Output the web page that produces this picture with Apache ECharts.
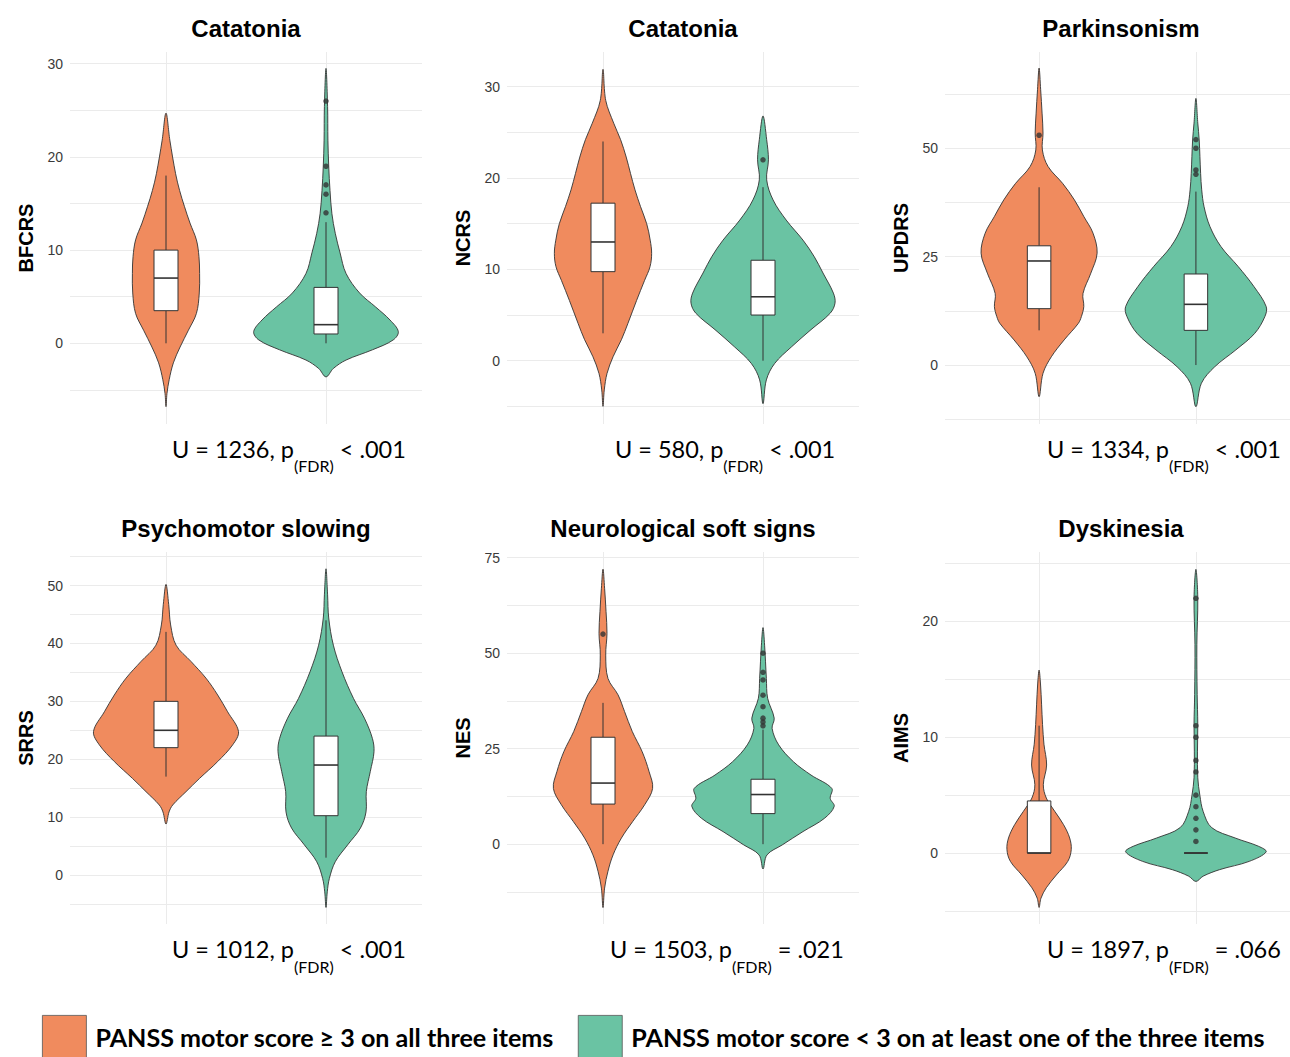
<!DOCTYPE html>
<html><head><meta charset="utf-8">
<script src="https://cdn.jsdelivr.net/npm/echarts@6/dist/echarts.min.js"></script>
<style>html,body{margin:0;padding:0;background:#fff}#chart{width:1290px;height:1057px}</style>
</head><body><div id="chart"></div>
<script>
// ---------------- data ----------------
const groupNames = ['PANSS motor score \u2265 3 on all three items', 'PANSS motor score < 3 on at least one of the three items'];
const panelTitles = ['Catatonia', 'Catatonia', 'Parkinsonism', 'Psychomotor slowing', 'Neurological soft signs', 'Dyskinesia'];
const yAxisNames = ['BFCRS', 'NCRS', 'UPDRS', 'SRRS', 'NES', 'AIMS'];
const yLimits = [[-8.66, 31.26], [-6.93, 33.8], [-13.6, 72.2], [-8.46, 55.8], [-20.9, 76.5], [-6.13, 26.0]];
const yMajorTicks = [[0, 10, 20, 30], [0, 10, 20, 30], [0, 25, 50], [0, 10, 20, 30, 40, 50], [0, 25, 50, 75], [0, 10, 20]];
const yMinorTicks = [[-5, 5, 15, 25], [-5, 5, 15, 25], [-12.5, 12.5, 37.5, 62.5], [-5, 5, 15, 25, 35, 45, 55], [-12.5, 12.5, 37.5, 62.5], [-5, 5, 15, 25]];
const statU = [1236, 580, 1334, 1012, 1503, 1897];
const statRel = ['<', '<', '<', '<', '=', '='];
const statP = ['.001', '.001', '.001', '.001', '.021', '.066'];

// violin outlines: [score, half-width in group units], bottom tip to top tip
const bfcrsHighViolin = [[-6.8,0],[-5.4,0.006],[-3.9,0.02],[-2.1,0.046],[-0.4,0.088],[1.4,0.14],[3.2,0.19],[5.4,0.208],[7.5,0.21],[9.3,0.206],[11.1,0.19],[12.9,0.15],[14.7,0.115],[16.4,0.085],[18.2,0.06],[21.8,0.024],[24.7,0]];
const bfcrsLowViolin = [[-3.6,0],[-2.7,0.046],[-1.8,0.125],[-0.7,0.29],[0.36,0.42],[1.25,0.452],[2.5,0.40],[3.9,0.31],[5.4,0.21],[7.5,0.125],[9.7,0.088],[11.8,0.058],[13.9,0.037],[16.4,0.025],[19,0.017],[21.8,0.012],[25.4,0.01],[29.5,0]];
const ncrsHighViolin = [[-5.0,0],[-3.2,0.008],[-1.4,0.025],[0.44,0.063],[2.3,0.115],[4.1,0.156],[6.6,0.21],[8.8,0.26],[10.3,0.294],[11.75,0.304],[13.2,0.295],[15.0,0.273],[16.9,0.234],[18.7,0.2],[20.5,0.172],[22.3,0.145],[24.2,0.11],[26.0,0.067],[28.5,0.017],[31.9,0]];
const ncrsLowViolin = [[-4.7,0],[-2.1,0.021],[-0.3,0.073],[1.5,0.177],[3.4,0.30],[5.2,0.42],[6.3,0.45],[7.4,0.44],[9.6,0.375],[11.4,0.32],[13.2,0.25],[15.4,0.145],[17.6,0.063],[19.8,0.023],[22.0,0.034],[24.2,0.023],[26.8,0]];
const updrsHighViolin = [[-7.3,0],[-1.9,0.025],[1.9,0.078],[5.8,0.16],[9.6,0.25],[11.2,0.27],[13.5,0.285],[16.5,0.28],[21.2,0.33],[25.8,0.37],[30.4,0.344],[34.2,0.286],[38.1,0.225],[41.9,0.15],[45.8,0.057],[49.6,0.021],[53.5,0.025],[58.1,0.019],[63.5,0.01],[68.5,0]];
const updrsLowViolin = [[-9.6,0],[-4.2,0.035],[-0.4,0.12],[3.5,0.255],[7.3,0.375],[11.2,0.44],[13.5,0.448],[18.1,0.37],[22.7,0.27],[27.3,0.16],[31.9,0.09],[36.5,0.052],[40.4,0.037],[44.2,0.03],[51.9,0.021],[55.8,0.012],[61.5,0]];
const srrsHighViolin = [[8.8,0],[10.9,0.019],[12.1,0.042],[14.4,0.125],[16.7,0.21],[19.6,0.323],[22.5,0.417],[24.8,0.453],[28.2,0.385],[31.1,0.323],[34.0,0.25],[36.9,0.156],[39.7,0.063],[43.2,0.029],[46.7,0.017],[50.2,0]];
const srrsLowViolin = [[-5.6,0],[-2.9,0.008],[-0.6,0.021],[2.3,0.058],[5.2,0.135],[8.1,0.215],[10.9,0.25],[14.4,0.252],[17.9,0.277],[21.3,0.30],[23.6,0.29],[27.1,0.24],[30.5,0.172],[35.1,0.1],[39.7,0.046],[44.4,0.017],[48.4,0.01],[52.9,0]];
const nesHighViolin = [[-16.6,0],[-11.5,0.01],[-7.1,0.031],[-2.8,0.063],[1.6,0.115],[5.9,0.185],[10.3,0.26],[14.6,0.31],[19.0,0.288],[24.2,0.245],[29.5,0.183],[34.7,0.135],[39.1,0.094],[43.4,0.031],[49.5,0.017],[55.2,0.025],[60.9,0.019],[67.0,0.01],[72.0,0]];
const nesLowViolin = [[-6.5,0],[-2.8,0.025],[-0.2,0.12],[3.3,0.25],[6.8,0.385],[9.9,0.445],[12.0,0.42],[14.6,0.43],[18.1,0.30],[21.6,0.19],[26.0,0.098],[30.3,0.057],[33.0,0.07],[38.2,0.029],[43.4,0.021],[52.1,0.01],[56.7,0]];
const aimsHighViolin = [[-4.7,0],[-3.9,0.012],[-3.0,0.046],[-1.9,0.11],[-0.72,0.183],[0.29,0.205],[1.3,0.195],[2.45,0.156],[3.6,0.1],[4.75,0.046],[5.9,0.027],[7.6,0.048],[9.4,0.031],[11.1,0.022],[12.8,0.016],[14.6,0.009],[15.8,0]];
const aimsLowViolin = [[-2.45,0],[-2.0,0.046],[-1.44,0.15],[-0.72,0.34],[0.1,0.448],[0.58,0.40],[1.3,0.25],[2.2,0.1],[3.6,0.046],[5.0,0.025],[6.5,0.012],[8.8,0.01],[11.1,0.012],[13.7,0.008],[18.0,0.006],[22.0,0.012],[24.5,0]];

// box stats: [lower whisker, Q1, median, Q3, upper whisker]
const bfcrsHighBox = [0, 3.5, 7, 10, 18];
const bfcrsLowBox = [0, 1, 2, 6, 13];
const ncrsHighBox = [3, 9.75, 13, 17.25, 24];
const ncrsLowBox = [0, 5, 7, 11, 19];
const updrsHighBox = [8, 13, 24, 27.5, 41];
const updrsLowBox = [0, 8, 14, 21, 40];
const srrsHighBox = [17, 22, 25, 30, 42];
const srrsLowBox = [3, 10.25, 19, 24, 44];
const nesHighBox = [0, 10.5, 16, 28, 37];
const nesLowBox = [0, 8, 13, 17, 30];
const aimsHighBox = [0, 0, 0, 4.5, 11];
const aimsLowBox = [0, 0, 0, 0, 0];

// outliers
const bfcrsHighOutliers = [];
const bfcrsLowOutliers = [14, 16, 17, 19, 26];
const ncrsHighOutliers = [];
const ncrsLowOutliers = [22];
const updrsHighOutliers = [53];
const updrsLowOutliers = [44, 45, 50, 52];
const srrsHighOutliers = [];
const srrsLowOutliers = [];
const nesHighOutliers = [55];
const nesLowOutliers = [31, 32, 33, 36, 39, 43, 45, 50];
const aimsHighOutliers = [];
const aimsLowOutliers = [1, 2, 3, 4, 5, 7, 8, 10, 11, 22];

const highViolins = [bfcrsHighViolin, ncrsHighViolin, updrsHighViolin, srrsHighViolin, nesHighViolin, aimsHighViolin];
const lowViolins = [bfcrsLowViolin, ncrsLowViolin, updrsLowViolin, srrsLowViolin, nesLowViolin, aimsLowViolin];
const highBoxes = [bfcrsHighBox, ncrsHighBox, updrsHighBox, srrsHighBox, nesHighBox, aimsHighBox];
const lowBoxes = [bfcrsLowBox, ncrsLowBox, updrsLowBox, srrsLowBox, nesLowBox, aimsLowBox];
const highOutliers = [bfcrsHighOutliers, ncrsHighOutliers, updrsHighOutliers, srrsHighOutliers, nesHighOutliers, aimsHighOutliers];
const lowOutliers = [bfcrsLowOutliers, ncrsLowOutliers, updrsLowOutliers, srrsLowOutliers, nesLowOutliers, aimsLowOutliers];

// ---------------- layout & style ----------------
const ORANGE = '#F08B5E', GREEN = '#6AC3A3', INK = '#333333', GRIDC = '#ebebeb';
const COL_LEFT = [70, 507, 945], ROW_TOP = [52, 552], PW = 352, PH = 372;
const BOX_HALF = 0.075;
const STAT_X = [172, 615, 1047, 172, 610, 1047];
const STAT_TOP = [436.5, 937];

function renderViolin(params, api) {
  if (params.dataIndexInside !== 0) return null;
  const n = params.dataInsideLength;
  const right = [], left = [];
  for (let k = 0; k < n; k++) {
    const x = api.value(0, k), v = api.value(1, k), w = api.value(2, k);
    right.push(api.coord([x + w, v]));
    if (k > 0 && k < n - 1) left.unshift(api.coord([x - w, v]));
  }
  return { type: 'polygon', shape: { points: right.concat(left), smooth: 0.35 },
    style: { fill: api.visual('color'), stroke: INK, lineWidth: 0.9 } };
}
function renderBox(params, api) {
  const x = api.value(0);
  const lo = api.value(1), q1 = api.value(2), md = api.value(3), q3 = api.value(4), hi = api.value(5);
  const pLo = api.coord([x, lo]), pQ1 = api.coord([x, q1]), pQ3 = api.coord([x, q3]), pHi = api.coord([x, hi]);
  const a = api.coord([x - BOX_HALF, q3]), b = api.coord([x + BOX_HALF, q1]);
  const m1 = api.coord([x - BOX_HALF, md]), m2 = api.coord([x + BOX_HALF, md]);
  return { type: 'group', children: [
    { type: 'line', shape: { x1: pHi[0], y1: pHi[1], x2: pQ3[0], y2: pQ3[1] }, style: { stroke: INK, lineWidth: 1 } },
    { type: 'line', shape: { x1: pQ1[0], y1: pQ1[1], x2: pLo[0], y2: pLo[1] }, style: { stroke: INK, lineWidth: 1 } },
    { type: 'rect', shape: { x: a[0], y: a[1], width: b[0] - a[0], height: b[1] - a[1] }, style: { fill: '#ffffff', stroke: INK, lineWidth: 1 } },
    { type: 'line', shape: { x1: m1[0], y1: m1[1], x2: m2[0], y2: m2[1] }, style: { stroke: INK, lineWidth: 1.6 } }
  ] };
}

const grids = [], xAxes = [], yAxes = [], titles = [], series = [], graphics = [];
for (let i = 0; i < 6; i++) {
  const col = i % 3, row = Math.floor(i / 3);
  grids.push({ left: COL_LEFT[col], top: ROW_TOP[row], width: PW, height: PH, containLabel: false });
  xAxes.push({ type: 'value', gridIndex: i, min: 0.4, max: 2.6,
    axisLine: { show: false }, axisLabel: { show: false },
    axisTick: { show: false, customValues: [1, 2] },
    splitLine: { show: true, lineStyle: { color: GRIDC, width: 1 } } });
  yAxes.push({ type: 'value', gridIndex: i, min: yLimits[i][0], max: yLimits[i][1],
    name: yAxisNames[i], nameLocation: 'middle', nameRotate: 90, nameGap: 34,
    nameTextStyle: { fontFamily: 'Liberation Sans', fontWeight: 'bold', fontSize: 20, color: '#000' },
    axisLine: { show: false },
    axisTick: { show: false, customValues: yMajorTicks[i].concat(yMinorTicks[i]).sort((a, b) => a - b) },
    axisLabel: { customValues: yMajorTicks[i], color: '#3a3a3a', fontSize: 14, margin: 7, fontFamily: 'Liberation Sans' },
    splitLine: { show: true, lineStyle: { color: GRIDC, width: 1 } } });
  titles.push({ text: panelTitles[i], left: COL_LEFT[col] + PW / 2, top: ROW_TOP[row] - 36, textAlign: 'center', padding: 0,
    textStyle: { fontFamily: 'Liberation Sans', fontWeight: 'bold', fontSize: 24, color: '#000' } });
  series.push({ type: 'custom', name: groupNames[0], xAxisIndex: i, yAxisIndex: i, z: 2,
    itemStyle: { color: ORANGE, borderColor: INK, borderWidth: 0.8 },
    encode: { x: 0, y: 1 }, renderItem: renderViolin,
    data: highViolins[i].map(p => [1, p[0], p[1]]) });
  series.push({ type: 'custom', name: groupNames[1], xAxisIndex: i, yAxisIndex: i, z: 2,
    itemStyle: { color: GREEN, borderColor: INK, borderWidth: 0.8 },
    encode: { x: 0, y: 1 }, renderItem: renderViolin,
    data: lowViolins[i].map(p => [2, p[0], p[1]]) });
  series.push({ type: 'custom', name: 'box', xAxisIndex: i, yAxisIndex: i, z: 3,
    encode: { x: 0, y: [1, 2, 3, 4, 5] }, renderItem: renderBox,
    data: [[1].concat(highBoxes[i]), [2].concat(lowBoxes[i])] });
  series.push({ type: 'scatter', name: 'outliers', xAxisIndex: i, yAxisIndex: i, z: 4,
    symbolSize: 5.5, itemStyle: { color: INK },
    data: highOutliers[i].map(v => [1, v]).concat(lowOutliers[i].map(v => [2, v])) });
  graphics.push({ type: 'text', x: STAT_X[i], y: STAT_TOP[row], silent: true,
    style: { text: '{n|U = ' + statU[i] + ', p}{s|(FDR)}{n| ' + statRel[i] + ' ' + statP[i] + '}',
      align: 'left', verticalAlign: 'top',
      rich: {
        n: { fontFamily: 'Lato', fontSize: 23.5, lineHeight: 27, color: '#111', verticalAlign: 'top' },
        s: { fontFamily: 'Lato', fontSize: 16, lineHeight: 16, color: '#111', verticalAlign: 'top', padding: [21, 0, 0, 0] }
      } } });
}

const chart = echarts.init(document.getElementById('chart'), null, { renderer: 'svg' });
chart.setOption({
  animation: false,
  backgroundColor: '#ffffff',
  title: titles,
  grid: grids,
  xAxis: xAxes,
  yAxis: yAxes,
  legend: { data: groupNames, left: 42, top: 1015, padding: 0, itemWidth: 44, itemHeight: 44, itemGap: 24,
    icon: 'rect', selectedMode: false,
    itemStyle: { borderColor: '#555', borderWidth: 0.8 },
    textStyle: { fontFamily: 'Lato', fontWeight: 'bold', fontSize: 25.1, color: '#000', padding: [0, 0, 0, 4] } },
  series: series,
  graphic: graphics
});
</script></body></html>
